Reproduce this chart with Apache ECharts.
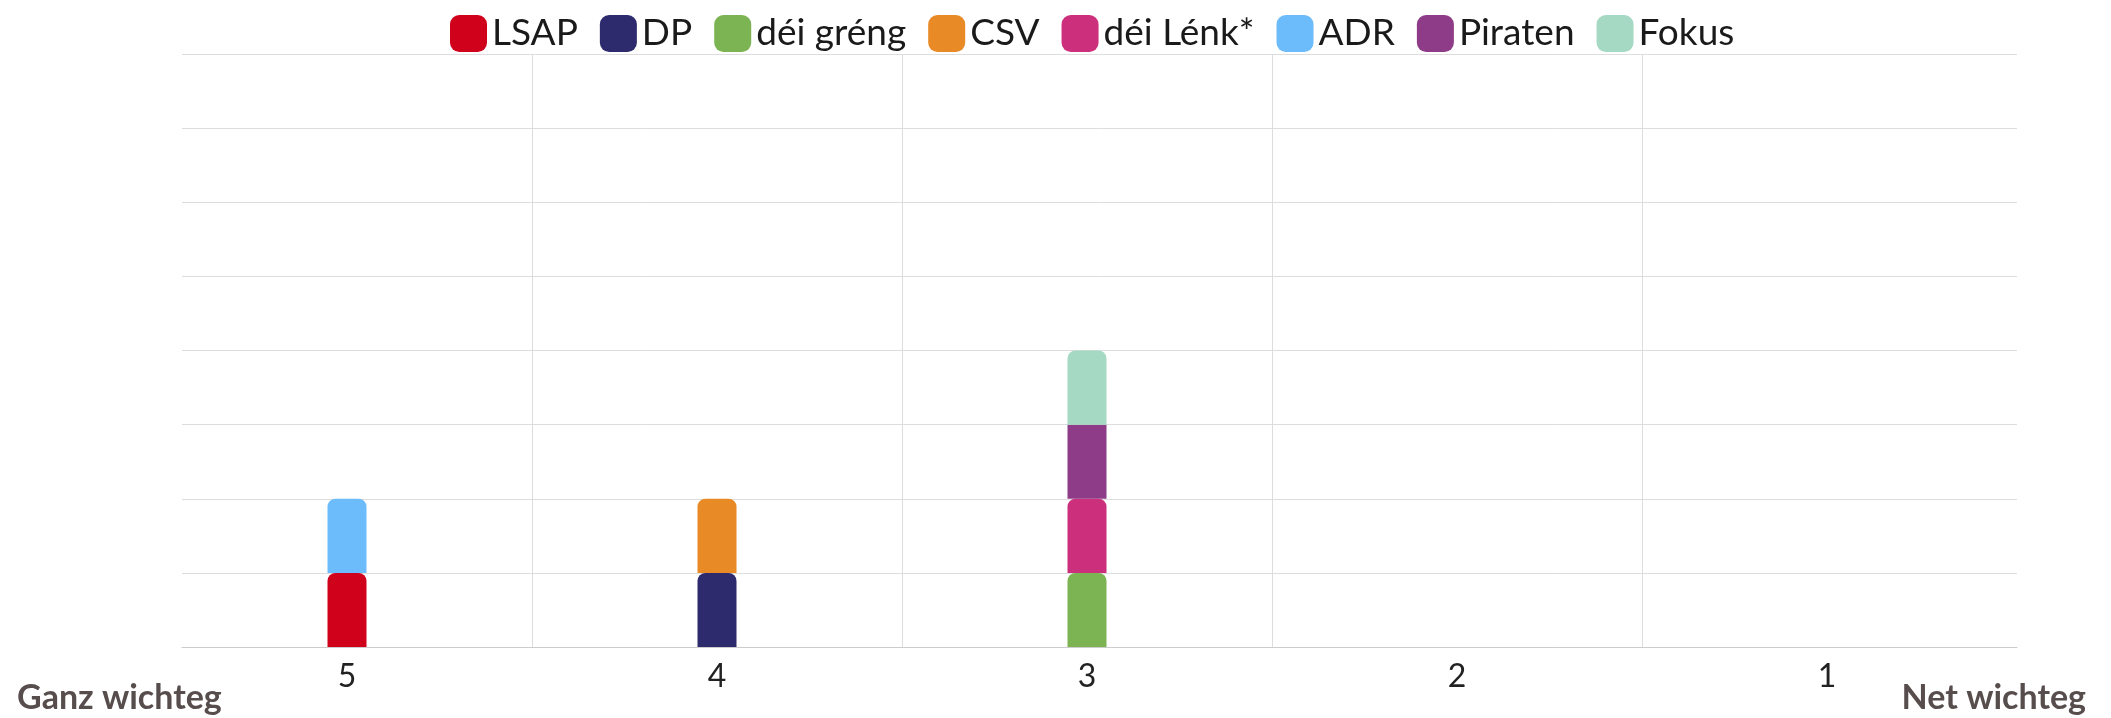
<!DOCTYPE html>
<html>
<head>
<meta charset="utf-8">
<title>Wichtegkeet</title>
<script src="https://cdn.jsdelivr.net/npm/echarts@6/dist/echarts.min.js"></script>
<style>
    html, body { margin: 0; padding: 0; background: #fff; }
    #chart { width: 2111px; height: 718px; }
</style>
</head>
<body>
<div id="chart"></div>
<script>
// scale from 5 (ganz wichteg) down to 1 (net wichteg)
var categories = ['5', '4', '3', '2', '1'];

var parties = ['LSAP', 'DP', 'déi gréng', 'CSV', 'déi Lénk*', 'ADR', 'Piraten', 'Fokus'];
var colors = ['#d0021b', '#2d2b6e', '#7cb454', '#e88a25', '#cc2f7b', '#6cbbfb', '#8e3c87', '#a5d9c3'];

// one value per category (5..1)
var lsap = [1, 0, 0, 0, 0];
var dp = [0, 1, 0, 0, 0];
var deiGreng = [0, 0, 1, 0, 0];
var csv = [0, 1, 0, 0, 0];
var deiLenk = [0, 0, 1, 0, 0];
var adr = [1, 0, 0, 0, 0];
var piraten = [0, 0, 1, 0, 0];
var fokus = [0, 0, 1, 0, 0];

var values = [lsap, dp, deiGreng, csv, deiLenk, adr, piraten, fokus];

var chart = echarts.init(document.getElementById('chart'));

var series = parties.map(function (name, i) {
    return {
        name: name,
        type: 'bar',
        stack: 'total',
        barWidth: 39,
        xAxisIndex: 0,
        yAxisIndex: 0,
        itemStyle: {
            color: colors[i],
            borderRadius: name === 'Piraten' ? 0 : [8, 8, 0, 0]
        },
        data: values[i].map(function (v) { return v === 0 ? '-' : v; })
    };
});

chart.setOption({
    animation: false,
    legend: {
        top: 10,
        left: 445,
        icon: 'roundRect',
        itemWidth: 37,
        itemHeight: 37,
        itemGap: 22,
        textStyle: {
            fontFamily: 'Lato',
            fontSize: 37,
            color: '#1a1a1a'
        },
        data: parties
    },
    grid: [
        // bars and category ticks
        { left: 162, right: 99, top: 54, bottom: 71 },
        // horizontal gridlines and baseline
        { left: 182, right: 94, top: 54, bottom: 71 }
    ],
    xAxis: [
        {
            type: 'category',
            gridIndex: 0,
            data: categories,
            axisLine: { show: false },
            axisTick: { alignWithLabel: true, length: 6, lineStyle: { color: '#aaa' } },
            axisLabel: {
                fontFamily: 'Lato',
                fontSize: 32,
                color: '#222',
                margin: 14
            },
            splitLine: {
                show: true,
                showMinLine: false,
                showMaxLine: false,
                lineStyle: { color: '#ddd' }
            }
        },
        {
            type: 'value',
            gridIndex: 1,
            min: 0,
            max: 1,
            axisLine: { show: true, onZero: false, lineStyle: { color: '#ccc' } },
            axisTick: { show: false },
            axisLabel: { show: false },
            splitLine: { show: false }
        }
    ],
    yAxis: [
        {
            type: 'value',
            gridIndex: 0,
            min: 0,
            max: 8,
            interval: 1,
            axisLabel: { show: false },
            axisLine: { show: false },
            axisTick: { show: false },
            splitLine: { show: false }
        },
        {
            type: 'value',
            gridIndex: 1,
            min: 0,
            max: 8,
            interval: 1,
            axisLabel: { show: false },
            axisLine: { show: false },
            axisTick: { show: false },
            splitLine: { lineStyle: { color: '#ddd' } }
        }
    ],
    graphic: [
        {
            type: 'text',
            left: 17,
            top: 681,
            style: {
                text: 'Ganz wichteg',
                font: 'bold 34px Lato',
                fill: '#574d4d'
            }
        },
        {
            type: 'text',
            right: 25,
            top: 681,
            style: {
                text: 'Net wichteg',
                font: 'bold 34px Lato',
                fill: '#574d4d'
            }
        }
    ],
    series: series
});
</script>
</body>
</html>
